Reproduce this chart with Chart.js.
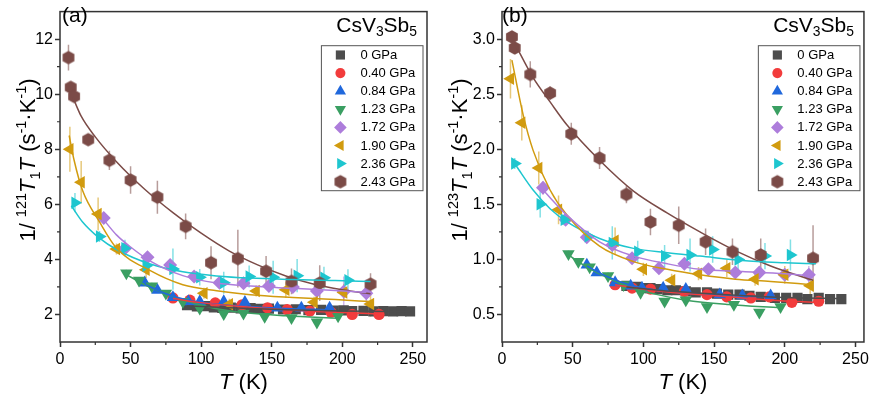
<!DOCTYPE html>
<html>
<head>
<meta charset="utf-8">
<script src="https://cdn.jsdelivr.net/npm/chart.js@4.4.1/dist/chart.umd.min.js"></script>
<style>
  html, body { margin: 0; padding: 0; background: #fff; }
  body { width: 872px; height: 398px; position: relative; overflow: hidden; }
  canvas { position: absolute; top: 0; }
  #chartA { left: 0; }
  #chartB { left: 440px; }
</style>
</head>
<body>
<canvas id="chartA" width="440" height="398"></canvas>
<canvas id="chartB" width="432" height="398"></canvas>
<script>
// pressures (legend), one entry per series
const pressures = ["0 GPa", "0.40 GPa", "0.84 GPa", "1.23 GPa", "1.72 GPa", "1.90 GPa", "2.36 GPa", "2.43 GPa"];

const xTicks = [0, 50, 100, 150, 200, 250];
const yTicksA = [2, 4, 6, 8, 10, 12];
const yTicksB = [0.5, 1.0, 1.5, 2.0, 2.5, 3.0];

// panel (a): 1/121T1T, temperature (K) and value per series
const tempA = [
  [90, 97, 103, 109, 115, 121, 128, 135, 141, 148, 158, 167, 176, 185, 194, 201, 207, 215, 222, 229, 236, 242, 248],
  [80, 92, 110, 129, 147, 161, 177, 192, 207, 226],
  [60, 69, 80, 91, 99, 116, 131, 154, 171, 191],
  [47, 56, 65, 75, 87, 99, 116, 130, 145, 164, 182, 197],
  [31, 46, 62, 78, 95, 113, 130, 148, 165, 182, 201, 217],
  [7, 15, 27, 40, 61, 102, 120, 139, 160, 180, 201, 220],
  [10.6, 28, 46, 61, 80, 99, 116, 134, 151, 168, 187, 204],
  [6, 7.6, 10, 20, 35, 50, 69, 89, 107, 126, 146, 164, 184, 220]
];
const valA = [
  [2.34, 2.29, 2.3, 2.26, 2.24, 2.25, 2.22, 2.23, 2.2, 2.21, 2.18, 2.19, 2.16, 2.17, 2.14, 2.15, 2.12, 2.13, 2.11, 2.12, 2.11, 2.12, 2.11],
  [2.6, 2.52, 2.42, 2.35, 2.24, 2.18, 2.12, 2.08, 2.0, 2.0],
  [3.15, 2.88, 2.62, 2.47, 2.47, 2.47, 2.45, 2.24, 2.24, 2.24],
  [3.5, 3.24, 3.03, 2.77, 2.47, 2.22, 2.02, 2.04, 1.92, 1.88, 1.72, 1.94],
  [5.5, 4.4, 4.08, 3.8, 3.38, 3.15, 3.13, 3.03, 3.0, 2.85, 2.83, 2.77],
  [8.0, 6.8, 5.65, 4.38, 3.62, 2.77, 2.37, 2.85, 2.9, 2.44, 2.8, 2.38],
  [6.06, 4.83, 4.41, 3.77, 3.65, 3.35, 3.15, 3.38, 3.35, 3.41, 3.33, 3.24],
  [11.33, 10.25, 9.92, 8.35, 7.6, 6.88, 6.26, 5.2, 3.88, 4.03, 3.57, 3.2, 3.14, 3.1]
];
const errA = [
  [0.05, 0.05, 0.05, 0.05, 0.05, 0.05, 0.05, 0.05, 0.05, 0.05, 0.05, 0.05, 0.05, 0.05, 0.05, 0.05, 0.05, 0.05, 0.05, 0.05, 0.05, 0.05, 0.05],
  [0.08, 0.08, 0.08, 0.08, 0.08, 0.08, 0.08, 0.08, 0.08, 0.08],
  [0.1, 0.1, 0.1, 0.1, 0.1, 0.1, 0.1, 0.1, 0.1, 0.1],
  [0.12, 0.12, 0.12, 0.12, 0.12, 0.12, 0.12, 0.12, 0.12, 0.12, 0.12, 0.12],
  [0.2, 0.15, 0.15, 0.15, 0.15, 0.2, 0.15, 0.2, 0.2, 0.25, 0.55, 0.5],
  [0.82, 0.77, 0.6, 0.2, 0.3, 0.2, 0.2, 0.2, 0.3, 0.2, 0.3, 0.45],
  [0.35, 0.2, 0.3, 0.3, 0.75, 0.3, 0.4, 0.4, 0.6, 0.6, 0.4, 0.4],
  [0.47, 0.15, 0.15, 0.2, 0.35, 0.5, 0.6, 0.47, 0.6, 1.05, 0.55, 0.47, 0.65, 0.4]
];
const fitTA = [
  [90, 120, 160, 200, 248],
  [80, 100, 130, 160, 190, 226],
  [60, 75, 90, 110, 130, 160, 191],
  [47, 60, 75, 90, 110, 130, 160, 197],
  [30, 40, 50, 64, 87, 111, 135, 165, 195, 217],
  [6.5, 10, 16, 28, 40, 64, 87, 111, 135, 165, 195, 220],
  [8, 16, 28, 40, 64, 87, 111, 135, 165, 195, 220],
  [9, 15, 25, 40, 60, 80, 100, 120, 140, 160, 180, 200, 220]
];
const fitYA = [
  [2.32, 2.24, 2.17, 2.13, 2.1],
  [2.58, 2.43, 2.28, 2.17, 2.09, 2.02],
  [3.1, 2.75, 2.53, 2.38, 2.3, 2.22, 2.17],
  [3.45, 3.08, 2.75, 2.48, 2.22, 2.07, 1.95, 1.86],
  [5.5, 4.89, 4.45, 3.94, 3.41, 3.14, 3.03, 2.95, 2.87, 2.8],
  [8.5, 7.6, 6.5, 5.36, 4.41, 3.59, 3.08, 2.86, 2.72, 2.62, 2.54, 2.47],
  [5.95, 5.36, 4.77, 4.36, 3.83, 3.55, 3.4, 3.32, 3.27, 3.23, 3.2],
  [9.9, 9.2, 8.45, 7.55, 6.55, 5.7, 4.95, 4.3, 3.8, 3.4, 3.1, 2.9, 2.75]
];

// panel (b): 1/123T1T
const tempB = [
  [88, 95, 100, 105, 110, 117, 123, 130, 137, 145, 152, 160, 168, 175, 183, 193, 201, 209, 216, 224, 232, 240],
  [80, 92, 105, 129, 145, 159, 176, 189, 205, 224],
  [60, 67, 80, 91, 99, 114, 130, 154, 170, 190],
  [47, 54, 62, 75, 86, 98, 115, 130, 145, 164, 182, 197],
  [29, 45, 60, 78, 92, 111, 129, 146, 165, 182, 200, 217],
  [6, 14, 26, 40, 80, 100, 120, 139, 159, 179, 200, 218],
  [9, 27, 44, 61, 78, 96, 115, 133, 149, 167, 186, 204],
  [7, 9, 20, 34, 49, 69, 88, 105, 125, 144, 163, 183, 220]
];
const valB = [
  [0.76, 0.75, 0.74, 0.74, 0.73, 0.72, 0.72, 0.71, 0.7, 0.7, 0.69, 0.68, 0.68, 0.67, 0.66, 0.65, 0.65, 0.65, 0.64, 0.65, 0.64, 0.64],
  [0.77, 0.74, 0.73, 0.71, 0.68, 0.66, 0.65, 0.66, 0.61, 0.62],
  [0.95, 0.88, 0.79, 0.76, 0.74, 0.74, 0.73, 0.68, 0.67, 0.67],
  [1.05, 0.98, 0.93, 0.85, 0.77, 0.7, 0.62, 0.63, 0.57, 0.59, 0.52, 0.57],
  [1.65, 1.36, 1.2, 1.13, 1.01, 0.92, 0.96, 0.91, 0.88, 0.88, 0.86, 0.86],
  [2.64, 2.24, 1.83, 1.45, 1.17, 0.91, 0.81, 0.87, 0.92, 0.82, 0.86, 0.76],
  [1.87, 1.5, 1.36, 1.21, 1.15, 1.07, 1.03, 1.04, 1.09, 1.0, 1.03, 1.04],
  [3.02, 2.92, 2.68, 2.51, 2.14, 1.92, 1.59, 1.34, 1.31, 1.16, 1.07, 1.04, 1.01]
];
const errB = [
  [0.015, 0.015, 0.015, 0.015, 0.015, 0.015, 0.015, 0.015, 0.015, 0.015, 0.015, 0.015, 0.015, 0.015, 0.015, 0.015, 0.015, 0.015, 0.015, 0.015, 0.015, 0.015],
  [0.02, 0.02, 0.02, 0.02, 0.02, 0.02, 0.02, 0.02, 0.02, 0.02],
  [0.025, 0.025, 0.025, 0.025, 0.025, 0.025, 0.025, 0.025, 0.025, 0.025],
  [0.03, 0.03, 0.03, 0.03, 0.03, 0.03, 0.03, 0.03, 0.03, 0.03, 0.03, 0.03],
  [0.06, 0.04, 0.04, 0.05, 0.04, 0.04, 0.04, 0.05, 0.04, 0.04, 0.05, 0.08],
  [0.18, 0.16, 0.15, 0.13, 0.12, 0.06, 0.06, 0.06, 0.08, 0.06, 0.08, 0.1],
  [0.05, 0.12, 0.05, 0.05, 0.15, 0.1, 0.1, 0.15, 0.12, 0.1, 0.12, 0.14],
  [0.04, 0.05, 0.12, 0.06, 0.1, 0.1, 0.08, 0.12, 0.17, 0.12, 0.12, 0.15, 0.3]
];
const fitTB = [
  [88, 120, 160, 200, 240],
  [80, 100, 130, 160, 190, 224],
  [60, 75, 90, 110, 130, 160, 190],
  [47, 60, 75, 90, 110, 130, 160, 197],
  [29, 46, 69, 93, 117, 140, 170, 200, 220],
  [7, 15, 22, 34, 46, 69, 93, 117, 140, 165, 190, 219],
  [10, 22, 34, 46, 69, 93, 117, 140, 170, 200, 222],
  [9, 22, 34, 46, 69, 93, 117, 140, 165, 190, 220]
];
const fitYB = [
  [0.75, 0.71, 0.68, 0.655, 0.645],
  [0.77, 0.73, 0.69, 0.66, 0.63, 0.61],
  [0.94, 0.84, 0.77, 0.72, 0.69, 0.67, 0.66],
  [1.04, 0.93, 0.83, 0.75, 0.68, 0.63, 0.59, 0.56],
  [1.63, 1.4, 1.16, 1.03, 0.96, 0.91, 0.89, 0.87, 0.85],
  [2.81, 2.31, 1.99, 1.63, 1.4, 1.12, 0.98, 0.91, 0.86, 0.82, 0.8, 0.77],
  [1.85, 1.63, 1.46, 1.34, 1.19, 1.1, 1.06, 1.03, 0.99, 0.97, 0.96],
  [2.96, 2.65, 2.43, 2.22, 1.9, 1.62, 1.42, 1.25, 1.08, 0.94, 0.81]
];

// styling
const FONT = '"Liberation Sans", Arial, Helvetica, sans-serif';
const AXIS = "#333";
const colors = ["#4d4d4d", "#f23c3c", "#2068dc", "#3a9f62", "#ad7ddb", "#d19b0f", "#1ec6cf", "#7b4b47"];
const errColors = ["rgba(77,77,77,0.5)", "rgba(242,60,60,0.5)", "rgba(32,104,220,0.5)", "rgba(58,159,98,0.5)",
  "rgba(173,125,219,0.55)", "rgba(209,155,15,0.55)", "rgba(30,198,207,0.55)", "rgba(123,75,71,0.55)"];

function hexagon(r, color) {
  const c = document.createElement("canvas");
  const s = Math.ceil(r * 2 + 2);
  c.width = s; c.height = s;
  const g = c.getContext("2d");
  g.fillStyle = color;
  g.beginPath();
  for (let k = 0; k < 6; k++) {
    const a = -Math.PI / 2 + k * Math.PI / 3;
    const px = s / 2 + r * Math.cos(a), py = s / 2 + r * Math.sin(a);
    if (k) g.lineTo(px, py); else g.moveTo(px, py);
  }
  g.closePath();
  g.fill();
  return c;
}

const markers = [
  { style: "rect", r: 7.2, rot: 0 },
  { style: "circle", r: 5.6, rot: 0 },
  { style: "triangle", r: 7.2, rot: 0 },
  { style: "triangle", r: 7.2, rot: 180 },
  { style: "rectRot", r: 7, rot: 0 },
  { style: "triangle", r: 7.2, rot: 270 },
  { style: "triangle", r: 7.2, rot: 90 },
  { style: hexagon(6.8, colors[7]), r: 7, rot: 0 }
];

function drawRich(ctx, segs, x, y, size, align) {
  let w = 0;
  const parts = segs.map(s => {
    const fs = (s.sup || s.sub) ? size * 0.66 : size;
    const font = (s.it ? "italic " : "") + fs + "px " + FONT;
    ctx.font = font;
    const sw = ctx.measureText(s.t).width;
    const dy = s.sup ? -size * 0.4 : s.sub ? size * 0.21 : 0;
    w += sw;
    return { t: s.t, font, w: sw, dy };
  });
  let cx = align === "center" ? x - w / 2 : align === "right" ? x - w : x;
  ctx.textAlign = "left";
  ctx.textBaseline = "alphabetic";
  for (const p of parts) {
    ctx.font = p.font;
    ctx.fillText(p.t, cx, y + p.dy);
    cx += p.w;
  }
}

function makeDecor(cfg) {
  return {
    id: "decor",
    beforeDatasetsDraw(chart) {
      const ctx = chart.ctx, ca = chart.chartArea;
      const xs = chart.scales.x, ys = chart.scales.y;
      ctx.save();
      ctx.beginPath();
      ctx.rect(ca.left, ca.top, ca.right - ca.left, ca.bottom - ca.top);
      ctx.clip();
      ctx.lineWidth = 1.5;
      chart.data.datasets.forEach(ds => {
        if (!ds.errs) return;
        ctx.strokeStyle = ds.errColor;
        ds.data.forEach((p, j) => {
          const px = xs.getPixelForValue(p.x);
          ctx.beginPath();
          ctx.moveTo(px, ys.getPixelForValue(p.y - ds.errs[j]));
          ctx.lineTo(px, ys.getPixelForValue(p.y + ds.errs[j]));
          ctx.stroke();
        });
      });
      ctx.restore();
    },
    afterDraw(chart) {
      const ctx = chart.ctx, ca = chart.chartArea;
      const xs = chart.scales.x, ys = chart.scales.y;
      ctx.save();
      // frame
      ctx.strokeStyle = AXIS;
      ctx.lineWidth = 1.5;
      ctx.strokeRect(ca.left, ca.top, ca.right - ca.left, ca.bottom - ca.top);
      // minor ticks
      ctx.lineWidth = 1.2;
      ctx.beginPath();
      cfg.xMinor.forEach(v => {
        const px = xs.getPixelForValue(v);
        ctx.moveTo(px, ca.bottom); ctx.lineTo(px, ca.bottom + 3);
      });
      cfg.yMinor.forEach(v => {
        const py = ys.getPixelForValue(v);
        ctx.moveTo(ca.left, py); ctx.lineTo(ca.left - 3, py);
      });
      ctx.stroke();

      ctx.fillStyle = "#000";
      // axis titles
      drawRich(ctx, [{ t: "T", it: true }, { t: " (K)" }], (ca.left + ca.right) / 2, 389, 22, "center");
      ctx.save();
      ctx.translate(cfg.titleX, 160);
      ctx.rotate(-Math.PI / 2);
      drawRich(ctx, [
        { t: "1/ " }, { t: cfg.iso, sup: true }, { t: "T", it: true }, { t: "1", sub: true },
        { t: "T", it: true }, { t: " (s" }, { t: "-1", sup: true }, { t: "\u00b7K" }, { t: "-1", sup: true }, { t: ")" }
      ], 0, 0, 22, "center");
      ctx.restore();

      // panel label and compound
      drawRich(ctx, [{ t: cfg.panel }], ca.left + cfg.panelDx, 22, 21, "left");
      drawRich(ctx, [{ t: "CsV" }, { t: "3", sub: true }, { t: "Sb" }, { t: "5", sub: true }], ca.right - 10, 32, 21, "right");

      // legend
      const bw = 101.6, bh = 145, bx = ca.right - 4 - bw, by = 45.7;
      ctx.fillStyle = "#fff";
      ctx.fillRect(bx, by, bw, bh);
      ctx.lineWidth = 1;
      ctx.strokeStyle = "#555";
      ctx.strokeRect(bx, by, bw, bh);
      pressures.forEach((lab, i) => {
        const cy = by + 9.3 + i * 18.1;
        ctx.fillStyle = colors[i];
        Chart.helpers.drawPoint(ctx, {
          pointStyle: markers[i].style, rotation: markers[i].rot, radius: markers[i].r * 0.9, borderWidth: 0
        }, bx + 19, cy);
        ctx.fillStyle = "#000";
        ctx.font = "13px " + FONT;
        ctx.textAlign = "left";
        ctx.textBaseline = "middle";
        ctx.fillText(lab, bx + 39, cy + 0.5);
      });
      ctx.restore();
    }
  };
}

function makeChart(id, p) {
  const datasets = [];
  for (let i = 0; i < 8; i++) {
    datasets.push({
      label: "fit " + pressures[i],
      data: p.fitT[i].map((t, j) => ({ x: t, y: p.fitY[i][j] })),
      showLine: true,
      borderColor: colors[i],
      borderWidth: 1.5,
      pointRadius: 0,
      cubicInterpolationMode: "monotone",
      order: 0
    });
  }
  for (let i = 0; i < 8; i++) {
    datasets.push({
      label: pressures[i],
      data: p.temp[i].map((t, j) => ({ x: t, y: p.val[i][j] })),
      errs: p.err[i],
      errColor: errColors[i],
      showLine: false,
      pointStyle: markers[i].style,
      pointRotation: markers[i].rot,
      pointRadius: markers[i].r,
      backgroundColor: colors[i],
      borderColor: colors[i],
      pointBorderWidth: 0,
      order: 8 - i
    });
  }
  const tickFont = { family: FONT, size: 16 };
  return new Chart(document.getElementById(id), {
    type: "scatter",
    data: { datasets },
    options: {
      responsive: false,
      devicePixelRatio: 1,
      animation: false,
      events: [],
      layout: { padding: { left: 0, right: p.padRight, top: 3, bottom: 0 } },
      plugins: { legend: { display: false }, tooltip: { enabled: false } },
      scales: {
        x: {
          type: "linear",
          min: 0,
          max: p.xMax,
          afterBuildTicks: axis => { axis.ticks = xTicks.map(v => ({ value: v })); },
          afterFit: axis => { axis.height = 56; },
          ticks: { font: tickFont, color: "#000", padding: 3, maxRotation: 0, autoSkip: false },
          grid: { drawOnChartArea: false, tickLength: 5, tickWidth: 1.5, tickColor: AXIS },
          border: { display: false }
        },
        y: {
          type: "linear",
          min: p.yMin,
          max: p.yMax,
          afterBuildTicks: axis => { axis.ticks = p.yTicks.map(v => ({ value: v })); },
          afterFit: axis => { axis.width = p.yAxisW; },
          ticks: {
            font: tickFont, color: "#000", padding: 2, autoSkip: false,
            callback: v => p.yFmt(v)
          },
          grid: { drawOnChartArea: false, tickLength: 5, tickWidth: 1.5, tickColor: AXIS },
          border: { display: false }
        }
      }
    },
    plugins: [makeDecor(p.decor)]
  });
}

makeChart("chartA", {
  temp: tempA, val: valA, err: errA, fitT: fitTA, fitY: fitYA,
  xMax: 260, yMin: 1, yMax: 13, yTicks: yTicksA, yFmt: v => String(v),
  yAxisW: 60, padRight: 13,
  decor: { panel: "(a)", panelDx: 2, iso: "121", titleX: 35,
    xMinor: [25, 75, 125, 175, 225], yMinor: [3, 5, 7, 9, 11] }
});

makeChart("chartB", {
  temp: tempB, val: valB, err: errB, fitT: fitTB, fitY: fitYB,
  xMax: 256, yMin: 0.25, yMax: 3.25, yTicks: yTicksB, yFmt: v => v.toFixed(1),
  yAxisW: 62, padRight: 8,
  decor: { panel: "(b)", panelDx: 0, iso: "123", titleX: 27,
    xMinor: [25, 75, 125, 175, 225], yMinor: [0.75, 1.25, 1.75, 2.25, 2.75] }
});
</script>
</body>
</html>
